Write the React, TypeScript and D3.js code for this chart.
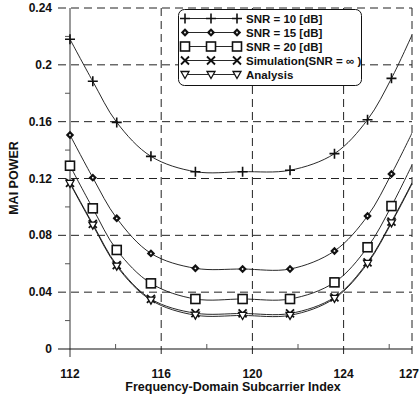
import React from 'react'
import * as d3 from 'd3'

// subcarrier positions of the markers, last entry is the right edge (no marker there)
const subcarrier = [112, 113, 114.05, 115.55, 117.5, 119.57, 121.65, 123.6, 125.05, 126.1, 127]
const markerCount = 10

const snr10 = [0.218, 0.1884, 0.1595, 0.1356, 0.1248, 0.1248, 0.1258, 0.1375, 0.1614, 0.1905, 0.221]
const snr15 = [0.1506, 0.1206, 0.092, 0.0673, 0.0568, 0.0563, 0.0563, 0.069, 0.0936, 0.1232, 0.152]
const snr20 = [0.129, 0.099, 0.0697, 0.0462, 0.0352, 0.0352, 0.0352, 0.0469, 0.0716, 0.1006, 0.1295]
const simulation = [0.117, 0.088, 0.0591, 0.0352, 0.0252, 0.025, 0.025, 0.0364, 0.061, 0.0896, 0.117]
const analysis = [0.1165, 0.0872, 0.0583, 0.0344, 0.0238, 0.0236, 0.0237, 0.0356, 0.0602, 0.0888, 0.1162]

const seriesNames = ['SNR = 10 [dB]', 'SNR = 15 [dB]', 'SNR = 20 [dB]', 'Simulation(SNR = \u221E )', 'Analysis']
const seriesMarkers = ['plus', 'diamond', 'square', 'cross', 'triangle']

const xTicks = [112, 116, 120, 124, 127]
const xMinorTicks = [114, 118, 122, 126]
const yTicks = [0, 0.04, 0.08, 0.12, 0.16, 0.2, 0.24]
const yMinorTicks = [0.02, 0.06, 0.1, 0.14, 0.18, 0.22]

const FONT = '"Liberation Sans", Arial, sans-serif'
const INK = '#111'

function Marker({ kind, x, y }: { kind: string; x: number; y: number }) {
  switch (kind) {
    case 'plus':
      return <path d={`M${x - 5},${y}H${x + 5}M${x},${y - 5}V${y + 5}`} stroke={INK} strokeWidth={1.6} fill="none" />
    case 'diamond':
      return (
        <g>
          <path d={`M${x},${y - 4.2}L${x + 4.2},${y}L${x},${y + 4.2}L${x - 4.2},${y}Z`} fill={INK} />
          <circle cx={x} cy={y} r={0.9} fill="#fff" />
        </g>
      )
    case 'square':
      return <rect x={x - 4.5} y={y - 4.5} width={9} height={9} fill="#fff" stroke={INK} strokeWidth={1.6} />
    case 'cross':
      return <path d={`M${x - 4},${y - 4}L${x + 4},${y + 4}M${x + 4},${y - 4}L${x - 4},${y + 4}`} stroke={INK} strokeWidth={1.8} fill="none" />
    default:
      return <path d={`M${x - 4},${y - 3}L${x + 4},${y - 3}L${x},${y + 4}Z`} fill="#fff" stroke={INK} strokeWidth={1.3} />
  }
}

export default function App() {
  const x = d3.scaleLinear().domain([112, 127]).range([70, 412])
  const y = d3.scaleLinear().domain([0, 0.24]).range([349, 8])

  const series = [snr10, snr15, snr20, simulation, analysis]
  const line = d3
    .line<number>()
    .x((_, i) => x(subcarrier[i]))
    .y((d) => y(d))
    .curve(d3.curveCatmullRom.alpha(0.5))

  const left = 58
  const right = x(127)
  const top = y(0.24)
  const bottom = y(0)

  return (
    <svg width={420} height={399} style={{ position: 'absolute', left: 0, top: 0, background: '#fff' }}>
      <rect width={420} height={399} fill="#fff" />

      {/* horizontal grid */}
      {yTicks.filter((t) => t > 0).map((t) => (
        <line key={'hg' + t} x1={left} x2={right} y1={y(t)} y2={y(t)} stroke="#222" strokeWidth={1} strokeDasharray="8,5" />
      ))}
      {/* vertical grid */}
      {xTicks.filter((t) => t > 112).map((t) => (
        <line key={'vg' + t} x1={x(t)} x2={x(t)} y1={top} y2={bottom + 8} stroke="#222" strokeWidth={1} strokeDasharray="8,5" />
      ))}

      {/* axes */}
      <line x1={x(112)} x2={x(112)} y1={top} y2={bottom + 8} stroke="#555" strokeWidth={1.2} />
      <line x1={left} x2={right} y1={bottom} y2={bottom} stroke={INK} strokeWidth={1.2} />
      {yMinorTicks.map((t) => (
        <line key={'ym' + t} x1={x(112) - 5} x2={x(112)} y1={y(t)} y2={y(t)} stroke="#555" />
      ))}
      {xMinorTicks.map((t) => (
        <line key={'xm' + t} x1={x(t)} x2={x(t)} y1={bottom} y2={bottom - 5} stroke="#555" />
      ))}

      {/* tick labels */}
      {yTicks.map((t) => (
        <text key={'yl' + t} x={52} y={y(t) + 4} textAnchor="end" fontFamily={FONT} fontWeight="bold" fontSize={12} fill={INK}>
          {d3.format('~g')(t)}
        </text>
      ))}
      {xTicks.map((t) => {
        // the last label would run past the right edge, so anchor it at its end
        const atEdge = x(t) + 11 > 420
        return (
          <text
            key={'xl' + t}
            x={atEdge ? 419 : x(t)}
            y={378}
            textAnchor={atEdge ? 'end' : 'middle'}
            fontFamily={FONT}
            fontWeight="bold"
            fontSize={12}
            fill={INK}
          >
            {t}
          </text>
        )
      })}

      {/* axis titles */}
      <text x={233} y={391} textAnchor="middle" fontFamily={FONT} fontWeight="bold" fontSize={12.5} fill={INK}>
        Frequency-Domain Subcarrier Index
      </text>
      <text
        transform={`translate(18,178) rotate(-90)`}
        textAnchor="middle"
        fontFamily={FONT}
        fontWeight="bold"
        fontSize={12.5}
        fill={INK}
      >
        MAI POWER
      </text>

      {/* curves */}
      <defs>
        <clipPath id="plot">
          <rect x={x(112) - 6} y={top} width={right - x(112) + 6} height={bottom - top} />
        </clipPath>
      </defs>
      <g clipPath="url(#plot)">
        {series.map((s, k) => (
          <path key={'c' + k} d={line(s) ?? ''} fill="none" stroke={INK} strokeWidth={0.9} />
        ))}
      </g>
      {series.map((s, k) => (
        <g key={'m' + k}>
          {s.slice(0, markerCount).map((v, i) => (
            <Marker key={i} kind={seriesMarkers[k]} x={x(subcarrier[i])} y={y(v)} />
          ))}
        </g>
      ))}

      {/* legend */}
      <g>
        <rect x={178.5} y={9.5} width={183} height={76} rx={6} fill="#fff" stroke={INK} strokeWidth={1} />
        {seriesNames.map((name, k) => {
          const ly = 18.5 + k * 14
          return (
            <g key={'lg' + k}>
              <line x1={185} x2={237} y1={ly} y2={ly} stroke={INK} strokeWidth={0.9} />
              {[185, 211, 237].map((mx) => (
                <Marker key={mx} kind={seriesMarkers[k]} x={mx} y={ly} />
              ))}
              <text x={246} y={ly + 4} fontFamily={FONT} fontWeight="bold" fontSize={11.5} fill={INK}>
                {name}
              </text>
            </g>
          )
        })}
      </g>
    </svg>
  )
}
